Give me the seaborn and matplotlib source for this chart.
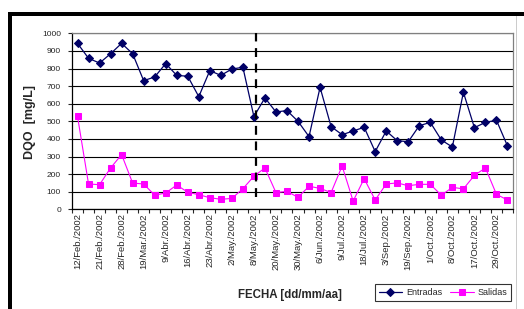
import pandas as pd
import matplotlib.pyplot as plt
import seaborn as sns
from matplotlib.patches import Rectangle

# Data (40 sampling dates, every other one labelled)
tick_labels = ["12/Feb./2002", "21/Feb./2002", "28/Feb./2002", "19/Mar./2002",
               "9/Abr./2002", "16/Abr./2002", "23/Abr./2002", "2/May./2002",
               "8/May./2002", "20/May./2002", "30/May./2002", "6/Jun./2002",
               "9/Jul./2002", "18/Jul./2002", "3/Sep./2002", "19/Sep./2002",
               "1/Oct./2002", "8/Oct./2002", "17/Oct./2002", "29/Oct./2002"]

entradas = [943, 858, 831, 884, 943, 884, 731, 752, 828, 761,
            756, 640, 788, 761, 797, 807, 527, 633, 553, 561,
            500, 413, 693, 470, 424, 445, 466, 328, 445, 390,
            384, 475, 494, 394, 354, 665, 464, 494, 506, 360]

salidas = [528, 144, 140, 235, 311, 149, 144, 80, 93, 138,
           97, 83, 66, 57, 62, 117, 188, 235, 95, 102,
           68, 131, 119, 95, 246, 47, 174, 53, 144, 150,
           134, 142, 142, 80, 125, 116, 193, 235, 85, 53]

# dashed separator (at the 8/May sample)
split_pos = 16.15
split_ymin = 70
split_ymax = 1000

df = pd.DataFrame({"idx": range(len(entradas)), "Entradas": entradas, "Salidas": salidas})

sns.set_style("white")
plt.rcParams['font.family'] = ['Liberation Sans', 'DejaVu Sans']

fig = plt.figure(figsize=(5.24, 3.09), dpi=100)
ax = fig.add_axes([0.1374, 0.3226, 0.8416, 0.5696])

navy = "#000066"
magenta = "#FF00FF"

sns.lineplot(data=df, x="idx", y="Entradas", ax=ax, color=navy, lw=0.9,
             marker="D", markersize=3.8, markeredgecolor=navy, label="Entradas")
sns.lineplot(data=df, x="idx", y="Salidas", ax=ax, color=magenta, lw=0.8,
             marker="s", markersize=4.2, markeredgecolor=magenta, label="Salidas")

ax.vlines(split_pos, split_ymin, split_ymax, colors="black", lw=1.6,
          linestyles=(0, (4, 3)), zorder=5)

# axes
ax.set_xlim(-0.5, len(entradas) - 0.5)
ax.set_ylim(0, 1000)
ax.set_yticks(range(0, 1001, 100))
ax.yaxis.grid(True, color="black", lw=0.8)
ax.set_axisbelow(True)
ax.tick_params(axis="y", labelsize=6, length=3, width=0.8, direction="out",
               left=True, pad=5)

ax.set_xticks(range(0, len(entradas), 2))
ax.set_xticklabels(tick_labels, rotation=90, fontsize=6.8)
ax.set_xticks([i - 0.5 for i in range(len(entradas) + 1)], minor=True)
ax.tick_params(axis="x", which="major", length=0, pad=3)
ax.tick_params(axis="x", which="minor", length=3, width=0.8, direction="out", bottom=True)

for s in ["left", "bottom"]:
    ax.spines[s].set_color("black")
    ax.spines[s].set_linewidth(0.9)
for s in ["top", "right"]:
    ax.spines[s].set_color("#808080")
    ax.spines[s].set_linewidth(0.9)

ax.set_xlabel("")
ax.set_ylabel("")
fig.text(0.058, 0.605, "DQO  [mg/L]", rotation=90, fontsize=9, fontweight="bold",
         ha="center", va="center")
fig.text(0.553, 0.045, "FECHA [dd/mm/aa]", fontsize=8.3, fontweight="bold",
         ha="center", va="center")

leg = ax.legend(loc="center", bbox_to_anchor=(0.845, 0.052), bbox_transform=fig.transFigure,
                ncol=2, fontsize=6.5, frameon=True, fancybox=False, edgecolor="black",
                handlelength=2.6, handletextpad=0.4, columnspacing=0.9, borderpad=0.45)
leg.get_frame().set_linewidth(0.8)

# thick black frame on top and left, thin grey edge on the right
fig.add_artist(Rectangle((8 / 524, 0), 4 / 524, 297 / 309, transform=fig.transFigure,
                         color="black", lw=0))
fig.add_artist(Rectangle((8 / 524, 1 - 16 / 309), 516 / 524, 4 / 309, transform=fig.transFigure,
                         color="black", lw=0))
fig.add_artist(Rectangle((516 / 524, 0), 1 / 524, 1 - 16 / 309, transform=fig.transFigure,
                         color="#cccccc", lw=0))

plt.savefig("out.png", dpi=100)
plt.close()
